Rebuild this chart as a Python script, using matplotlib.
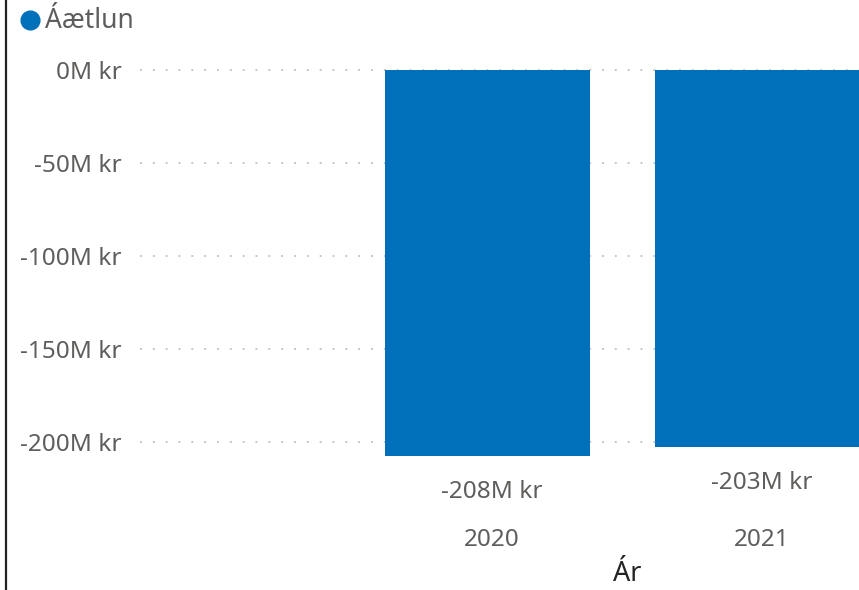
import matplotlib
matplotlib.use("Agg")
import matplotlib.pyplot as plt
from matplotlib.lines import Line2D

# data (millions of kr)
years = ["2020", "2021"]
aetlun = [-207.6, -202.8]
value_labels = ["-208M kr", "-203M kr"]
yticks = [0, -50, -100, -150, -200]
ytick_labels = ["0M kr", "-50M kr", "-100M kr", "-150M kr", "-200M kr"]

BAR = "#0070BA"
GREY = "#605E5C"
GRID = "#C8C6C4"
FONT = ["Noto Sans", "DejaVu Sans"]

plt.rcParams["font.family"] = FONT

W, H = 859, 590
fig = plt.figure(figsize=(W / 100, H / 100), dpi=100)


def px(x0, y0, x1, y1):
    return [x0 / W, 1 - y1 / H, (x1 - x0) / W, (y1 - y0) / H]


# axes: top edge at y=60 px, 0 at y=70, 50M per 93 px
ax = fig.add_axes(px(140, 60, 859, 460))
scale = 93 / 50.0
ax.set_ylim(-(460 - 70) / scale, 10 / scale)
ax.set_xlim((140 - 487.5) / 270, (859 - 487.5) / 270)

for t in yticks:
    ax.axhline(t, color=GRID, lw=1.4, linestyle=(0, (1, 5.6)), zorder=1)

x = list(range(len(years)))
ax.bar(x, aetlun, width=205 / 270, color=BAR, zorder=2)

for xi, v, lab in zip(x, aetlun, value_labels):
    ax.annotate(lab, (xi, v), xytext=(3, -25.5), textcoords="offset points",
                ha="center", va="center", fontsize=17.5, color=GREY)

ax.set_yticks(yticks)
ax.set_yticklabels(ytick_labels, fontsize=17.5, color=GREY)
ax.tick_params(axis="y", length=0, pad=13)
ax.set_xticks([xi + 0.015 for xi in x])
ax.set_xticklabels(years, fontsize=17.5, color=GREY)
ax.tick_params(axis="x", length=0, pad=49)
for s in ax.spines.values():
    s.set_visible(False)

# axis title
fig.text(627 / W, 1 - 581 / H, "Ár", ha="center", va="baseline",
         fontsize=19.5, color="#252423")

# legend
fig.add_artist(Line2D([30 / W], [1 - 20 / H], transform=fig.transFigure,
                      marker="o", markersize=13.5, color=BAR, lw=0))
fig.text(45 / W, 1 - 21 / H, "Áætlun", ha="left", va="center",
         fontsize=19, color=GREY)

# left border of the visual
fig.add_artist(Line2D([5.5 / W, 5.5 / W], [0, 1], transform=fig.transFigure,
                      color="#222222", lw=1.6))

fig.savefig("out.png", dpi=100)
